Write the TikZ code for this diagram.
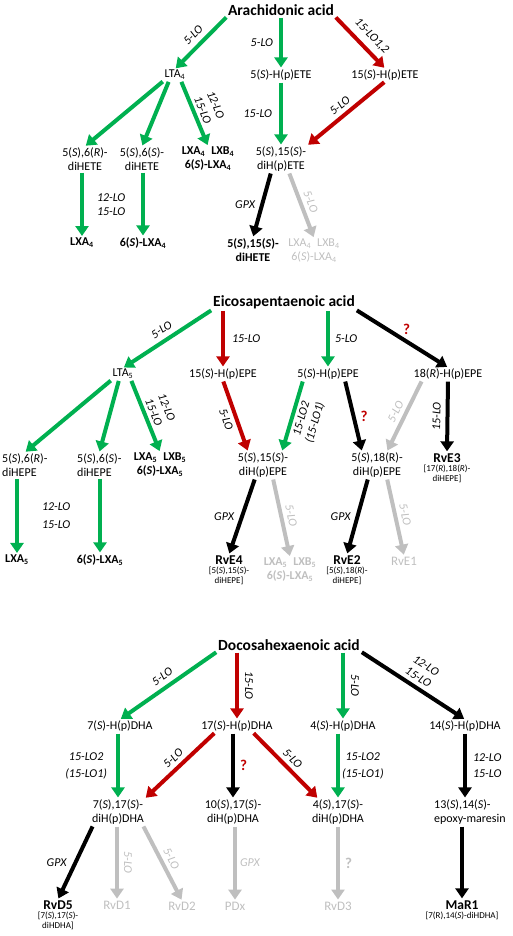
\documentclass[tikz,border=0pt]{standalone}
\usepackage{fontspec}
\setmainfont{Carlito}
\usetikzlibrary{arrows.meta, positioning}
\definecolor{lgreen}{RGB}{0,176,80}
\definecolor{dred}{RGB}{192,0,0}
\definecolor{lgrey}{RGB}{191,191,191}

\begin{document}
\begin{tikzpicture}[x=1pt, y=-1pt]
% Styles
\tikzset{
mol/.style={font=\fontsize{12}{14}\selectfont, align=center, inner sep=1pt},
acid/.style={font=\fontsize{15.5}{18}\selectfont\bfseries, inner sep=1pt},
product/.style={mol, font=\fontsize{12}{14}\selectfont\bfseries},
resolvin/.style={mol, font=\fontsize{13.5}{15}\selectfont\bfseries},
faded/.style={mol, text=lgrey},
fadedrv/.style={faded, font=\fontsize{13}{15}\selectfont},
note/.style={font=\fontsize{9}{10}\selectfont, align=center, inner sep=0pt},
enzyme/.style={font=\fontsize{12}{14}\selectfont\itshape, align=center, inner sep=1pt},
query/.style={font=\fontsize{15}{18}\selectfont\bfseries, text=dred, inner sep=1pt},
flux/.style={line width=4pt, -{Triangle[length=10pt,width=13pt]}, shorten <=1pt, shorten >=1pt},
greenflux/.style={flux, draw=lgreen},
redflux/.style={flux, draw=dred},
blackflux/.style={flux, draw=black},
greyflux/.style={flux, draw=lgrey}
}
\useasboundingbox (0,0) rectangle (512,936);

% Acide arachidonique
\node[acid] (aa) at (281,10) {Arachidonic acid};
\node[mol] (lta4) at (175,75) {LTA\textsubscript{4}};
\node[mol] (hpete5) at (281,75) {5(\textit{S})-H(p)ETE};
\node[mol] (hpete15) at (385,75) {15(\textit{S})-H(p)ETE};
\node[mol] (dihete56r) at (85,159) {5(\textit{S}),6(\textit{R})-\\diHETE};
\node[mol] (dihete56s) at (142,159) {5(\textit{S}),6(\textit{S})-\\diHETE};
\node[product] (lx4) at (208,159) {LXA\textsubscript{4}\enspace LXB\textsubscript{4}\\6(\textit{S})-LXA\textsubscript{4}};
\node[mol] (dihpete) at (281,159) {5(\textit{S}),15(\textit{S})-\\diH(p)ETE};
\node[product] (lxa4) at (82,243) {LXA\textsubscript{4}};
\node[product] (slxa4) at (143,243) {6(\textit{S})-LXA\textsubscript{4}};
\node[product] (dihete) at (253,250) {5(\textit{S}),15(\textit{S})-\\diHETE};
\node[faded] (lx4g) at (314,251) {LXA\textsubscript{4}\enspace LXB\textsubscript{4}\\6(\textit{S})-LXA\textsubscript{4}};

\draw[greenflux] (aa.south west) -- node[enzyme, sloped, above=4pt] {5-LO} (lta4.north);
\draw[greenflux] (aa.south) -- node[enzyme, left=5pt] {5-LO} (hpete5.north);
\draw[redflux] (aa.south east) -- node[enzyme, pos=0.55, sloped, above=5pt] {15-LO1,2} (hpete15.north);
\draw[greenflux] (lta4.south west) -- (dihete56r.north);
\draw[greenflux] ([xshift=-6pt]lta4.south) -- (dihete56s.north);
\draw[greenflux] ([xshift=6pt]lta4.south) -- node[enzyme, sloped, above=2pt] {12-LO\\15-LO} (lx4.north);
\draw[greenflux] (hpete5.south) -- node[enzyme, left=6pt] {15-LO} (dihpete.north);
\draw[redflux] (hpete15.south) -- node[enzyme, sloped, above=3pt] {5-LO} (dihpete.north east);
\draw[greenflux] (lxa4.north |- dihete56r.south) -- node[enzyme, right=12pt] {12-LO\\15-LO} (lxa4.north);
\draw[greenflux] (slxa4.north |- dihete56s.south) -- (slxa4.north);
\draw[blackflux] ([xshift=-10pt]dihpete.south) -- node[enzyme, left=4pt] {GPX} (dihete.north);
\draw[greyflux] ([xshift=8pt]dihpete.south) -- node[enzyme, sloped, above=3pt, text=lgrey] {5-LO} (lx4g.north);

% Acide eicosapentaenoique
\node[acid] (epa) at (284,302) {Eicosapentaenoic acid};
\node[mol] (lta5) at (123,374) {LTA\textsubscript{5}};
\node[mol] (hpepe15) at (223,374) {15(\textit{S})-H(p)EPE};
\node[mol] (hpepe5) at (328,374) {5(\textit{S})-H(p)EPE};
\node[mol] (hpepe18) at (448,374) {18(\textit{R})-H(p)EPE};
\node[mol, anchor=west, align=left] (dihepe56r) at (1,465) {5(\textit{S}),6(\textit{R})-\\diHEPE};
\node[mol, anchor=west, align=left] (dihepe56s) at (76,465) {5(\textit{S}),6(\textit{S})-\\diHEPE};
\node[product] (lx5) at (160,465) {LXA\textsubscript{5}\enspace LXB\textsubscript{5}\\6(\textit{S})-LXA\textsubscript{5}};
\node[mol] (dihpepe15) at (263,465) {5(\textit{S}),15(\textit{S})-\\diH(p)EPE};
\node[mol] (dihpepe18) at (377,465) {5(\textit{S}),18(R)-\\diH(p)EPE};
\node[resolvin] (rve3) at (447,458) {RvE3};
\node[note, below=1pt of rve3] (rve3note) {[17(\textit{R}),18(\textit{R})-\\diHEPE]};
\node[product] (lxa5) at (17,560) {LXA\textsubscript{5}};
\node[product] (slxa5) at (100,560) {6(\textit{S})-LXA\textsubscript{5}};
\node[resolvin] (rve4) at (229,560) {RvE4};
\node[note, below=1pt of rve4] (rve4note) {[5(\textit{S}),15(\textit{S})-\\diHEPE]};
\node[faded, font=\fontsize{12}{14}\selectfont\bfseries] (lx5g) at (290,570) {LXA\textsubscript{5}\enspace LXB\textsubscript{5}\\6(\textit{S})-LXA\textsubscript{5}};
\node[resolvin] (rve2) at (347,560) {RvE2};
\node[note, below=1pt of rve2] (rve2note) {[5(\textit{S}),18(\textit{R})-\\diHEPE]};
\node[fadedrv] (rve1) at (404,561) {RvE1};

\draw[greenflux] (epa.south west) -- node[enzyme, sloped, above=4pt] {5-LO} (lta5.north);
\draw[redflux] (hpepe15.north |- epa.south) -- node[enzyme, right=6pt] {15-LO} (hpepe15.north);
\draw[greenflux] (hpepe5.north |- epa.south) -- node[enzyme, right=4pt] {5-LO} (hpepe5.north);
\draw[blackflux] (epa.south east) -- node[query, pos=0.55, above=4pt] {?} (hpepe18.north);
\draw[greenflux] (lta5.south west) -- (dihepe56r.north);
\draw[greenflux] ([xshift=-4pt]lta5.south) -- (dihepe56s.north);
\draw[greenflux] ([xshift=8pt]lta5.south) -- node[enzyme, sloped, above=2pt] {12-LO\\15-LO} (lx5.north);
\draw[redflux] (hpepe15.south) -- node[enzyme, sloped, below=3pt] {5-LO} ([xshift=-15pt]dihpepe15.north);
\draw[greenflux] ([xshift=-25pt]hpepe5.south) -- node[enzyme, sloped, below=2pt] {15-LO2\\(15-LO1)} ([xshift=19pt]dihpepe15.north);
\draw[blackflux] ([xshift=17pt]hpepe5.south) -- node[query, right=4pt] {?} ([xshift=-15pt]dihpepe18.north);
\draw[greyflux] ([xshift=-26pt]hpepe18.south) -- node[enzyme, sloped, above=3pt, text=lgrey] {5-LO} ([xshift=10pt]dihpepe18.north);
\draw[blackflux] (hpepe18.south) -- node[enzyme, sloped, above=4pt] {15-LO} (rve3.north);
\draw[greenflux] (lxa5.north |- dihepe56r.south) -- node[enzyme, right=22pt] {12-LO\\[4pt]15-LO} (lxa5.north);
\draw[greenflux] (slxa5.north |- dihepe56s.south) -- (slxa5.north);
\draw[blackflux] ([xshift=-8pt]dihpepe15.south) -- node[enzyme, left=5pt] {GPX} (rve4.north);
\draw[greyflux] ([xshift=10pt]dihpepe15.south) -- node[enzyme, sloped, above=3pt, text=lgrey] {5-LO} (lx5g.north);
\draw[blackflux] ([xshift=-9pt]dihpepe18.south) -- node[enzyme, left=4pt] {GPX} (rve2.north);
\draw[greyflux] ([xshift=10pt]dihpepe18.south) -- node[enzyme, sloped, above=3pt, text=lgrey] {5-LO} (rve1.north);

% Acide docosahexaenoique
\node[acid] (dha) at (289,645) {Docosahexaenoic acid};
\node[mol] (hpdha7) at (120,726) {7(\textit{S})-H(p)DHA};
\node[mol] (hpdha17) at (237,726) {17(\textit{S})-H(p)DHA};
\node[mol] (hpdha4) at (343,726) {4(\textit{S})-H(p)DHA};
\node[mol] (hpdha14) at (465,726) {14(\textit{S})-H(p)DHA};
\node[mol] (dihdha717) at (118,812) {7(\textit{S}),17(\textit{S})-\\diH(p)DHA};
\node[mol] (dihdha1017) at (233,812) {10(\textit{S}),17(\textit{S})-\\diH(p)DHA};
\node[mol] (dihdha417) at (338,812) {4(\textit{S}),17(\textit{S})-\\diH(p)DHA};
\node[mol, anchor=west, align=left] (epoxy) at (433,812) {13(\textit{S}),14(\textit{S})-\\epoxy-maresin};
\node[resolvin] (rvd5) at (58,905) {RvD5};
\node[note, below=1pt of rvd5] (rvd5note) {[7(\textit{S}),17(\textit{S})-\\diHDHA]};
\node[fadedrv] (rvd1) at (117,905) {RvD1};
\node[fadedrv] (rvd2) at (182,906) {RvD2};
\node[fadedrv] (pdx) at (235,906) {PDx};
\node[fadedrv] (rvd3) at (338,906) {RvD3};
\node[resolvin] (mar1) at (462,905) {MaR1};
\node[note, below=1pt of mar1] (mar1note) {[7(R),14(\textit{S})-diHDHA]};

\draw[greenflux] (dha.south west) -- node[enzyme, sloped, above=4pt] {5-LO} (hpdha7.north);
\draw[redflux] (hpdha17.north |- dha.south) -- node[enzyme, sloped, above=5pt] {15-LO} (hpdha17.north);
\draw[greenflux] (hpdha4.north |- dha.south) -- node[enzyme, sloped, above=5pt] {5-LO} (hpdha4.north);
\draw[blackflux] (dha.south east) -- node[enzyme, sloped, above=3pt] {12-LO\\15-LO} (hpdha14.north);
\draw[greenflux] (dihdha717.north |- hpdha7.south) -- node[enzyme, left=8pt] {15-LO2\\[3pt](15-LO1)} (dihdha717.north);
\draw[redflux] ([xshift=-22pt]hpdha17.south) -- node[enzyme, sloped, above=3pt] {5-LO} ([xshift=27pt]dihdha717.north);
\draw[blackflux] (dihdha1017.north |- hpdha17.south) -- node[query, right=4pt] {?} (dihdha1017.north);
\draw[redflux] ([xshift=16pt]hpdha17.south) -- node[enzyme, sloped, above=3pt] {5-LO} ([xshift=-20pt]dihdha417.north);
\draw[greenflux] (dihdha417.north |- hpdha4.south) -- node[enzyme, right=1pt] {15-LO2\\[3pt](15-LO1)} (dihdha417.north);
\draw[blackflux] (hpdha14.south) -- node[enzyme, right=5pt] {12-LO\\[2pt]15-LO} (hpdha14.south |- epoxy.north);
\draw[blackflux] ([xshift=-25pt]dihdha717.south) -- node[enzyme, left=6pt] {GPX} (rvd5.north);
\draw[greyflux] (rvd1.north |- dihdha717.south) -- node[enzyme, sloped, above=4pt, text=lgrey] {5-LO} (rvd1.north);
\draw[greyflux] ([xshift=25pt]dihdha717.south) -- node[enzyme, sloped, above=3pt, text=lgrey] {5-LO} (rvd2.north);
\draw[greyflux] (pdx.north |- dihdha1017.south) -- node[enzyme, right=2pt, text=lgrey] {GPX} (pdx.north);
\draw[greyflux] (rvd3.north |- dihdha417.south) -- node[query, right=4pt, text=lgrey] {?} (rvd3.north);
\draw[blackflux] (mar1.north |- epoxy.south) -- (mar1.north);
\end{tikzpicture}
\end{document}
